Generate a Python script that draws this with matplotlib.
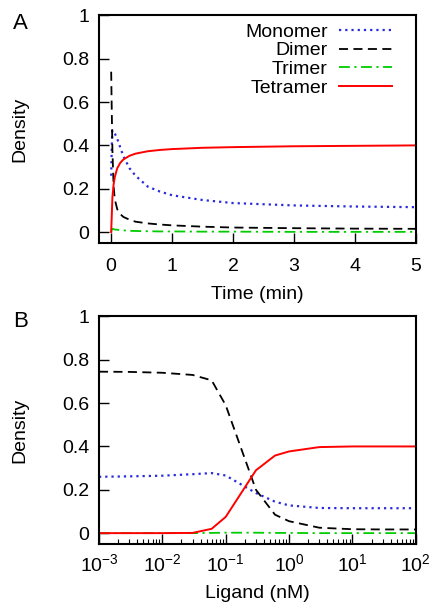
import numpy as np
import matplotlib
matplotlib.use('Agg')
import matplotlib.pyplot as plt
from matplotlib.ticker import FixedLocator, FuncFormatter, LogLocator, NullFormatter

# panel A: time course (min)
time = [0, 0.01, 0.02, 0.04, 0.06, 0.1, 0.15, 0.2, 0.3, 0.4, 0.6, 0.8, 1.0, 1.5, 2, 3, 4, 5]
monomer_t = [0.26, 0.40, 0.47, 0.465, 0.455, 0.43, 0.39, 0.35, 0.295, 0.26, 0.21, 0.187, 0.170,
             0.148, 0.134, 0.123, 0.118, 0.115]
dimer_t = [0.74, 0.55, 0.38, 0.21, 0.15, 0.105, 0.083, 0.07, 0.057, 0.048, 0.04, 0.035, 0.031,
           0.025, 0.021, 0.018, 0.016, 0.015]
trimer_t = [0, 0.015, 0.015, 0.013, 0.012, 0.011, 0.009, 0.008, 0.006, 0.005, 0.004, 0.003, 0.003,
            0.002, 0.002, 0.001, 0.001, 0.001]
tetramer_t = [0, 0.08, 0.16, 0.22, 0.255, 0.295, 0.32, 0.335, 0.352, 0.362, 0.373, 0.379, 0.383,
              0.389, 0.392, 0.396, 0.398, 0.40]

# panel B: steady state vs ligand (nM)
ligand = [1e-3, 3e-3, 1e-2, 3e-2, 6e-2, 0.1, 0.3, 0.6, 1, 3, 10, 30, 100]
monomer_l = [0.26, 0.262, 0.265, 0.272, 0.277, 0.266, 0.185, 0.145, 0.128, 0.116, 0.115, 0.115, 0.115]
dimer_l = [0.745, 0.744, 0.74, 0.73, 0.705, 0.59, 0.20, 0.085, 0.055, 0.025, 0.018, 0.017, 0.017]
trimer_l = [0, 0, 0, 0, 0.001, 0.002, 0.002, 0.001, 0.001, 0, 0, 0, 0]
tetramer_l = [0, 0, 0, 0.001, 0.02, 0.075, 0.29, 0.358, 0.377, 0.397, 0.40, 0.40, 0.40]

labels = ['Monomer', 'Dimer', 'Trimer', 'Tetramer']
yticks = [0, 0.2, 0.4, 0.6, 0.8, 1]

plt.rcParams['font.family'] = ['Liberation Sans', 'DejaVu Sans']
plt.rcParams['mathtext.default'] = 'regular'
plt.rcParams['font.size'] = 14

styles = [
    dict(color='#2a2ae0', linestyle=(0, (1, 1.8)), linewidth=1.6),
    dict(color='black', linestyle=(0, (5, 3)), linewidth=1.3),
    dict(color='#00cc00', linestyle=(0, (6, 2.5, 1.2, 2.5)), linewidth=1.3),
    dict(color='#ff0000', linestyle='-', linewidth=1.4),
]


def style_axes(ax):
    for s in ax.spines.values():
        s.set_linewidth(1.5)
    ax.tick_params(which='both', direction='in', top=False, right=False, width=1.0)
    ax.tick_params(which='major', length=7, pad=7)
    ax.tick_params(which='minor', length=3.5, width=0.8)
    ax.set_ylim(-0.05, 1.0)
    ax.yaxis.set_major_locator(FixedLocator(yticks))
    ax.yaxis.set_major_formatter(FuncFormatter(lambda v, p: '%g' % v))
    ax.set_ylabel('Density', labelpad=24)


fig = plt.figure(figsize=(4.4, 6.15), dpi=100)

ax1 = fig.add_axes([0.225, 0.605, 0.72, 0.37])
series_t = [monomer_t, dimer_t, trimer_t, tetramer_t]
for vals, lab, st in zip(series_t, labels, styles):
    ax1.plot(time, vals, label=lab, **st)
ax1.set_xlim(-0.2, 5)
ax1.set_xticks([0, 1, 2, 3, 4, 5])
style_axes(ax1)
ax1.tick_params(axis='x', which='major', pad=11)
ax1.set_xlabel('Time (min)', labelpad=8)
ax1.legend(loc='upper right', bbox_to_anchor=(0.93, 0.975), frameon=False, markerfirst=False,
           handlelength=2.7, labelspacing=0.06, borderaxespad=0.0, borderpad=0.1,
           handletextpad=0.6, fontsize=14)
fig.text(0.03, 0.962, 'A', fontsize=16, va='center')

ax2 = fig.add_axes([0.225, 0.1155, 0.72, 0.37])
series_l = [monomer_l, dimer_l, trimer_l, tetramer_l]
for vals, lab, st in zip(series_l, labels, styles):
    ax2.plot(ligand, vals, label=lab, **st)
ax2.set_xscale('log')
ax2.set_xlim(1e-3, 1e2)
ax2.xaxis.set_major_locator(LogLocator(base=10, numticks=10))
ax2.xaxis.set_minor_locator(LogLocator(base=10, subs=np.arange(2, 10), numticks=20))
ax2.xaxis.set_minor_formatter(NullFormatter())
ax2.xaxis.set_major_formatter(FuncFormatter(lambda v, p: '$10^{%d}$' % round(np.log10(v))))
style_axes(ax2)
ax2.set_xlabel('Ligand (nM)', labelpad=7)
fig.text(0.03, 0.478, 'B', fontsize=16, va='center')

fig.savefig('out.png', dpi=100)
